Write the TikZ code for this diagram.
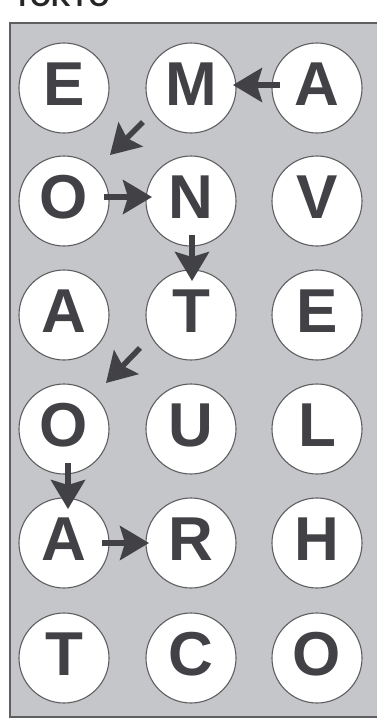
\documentclass[tikz,border=0pt]{standalone}
\usepackage{fontspec}
\setmainfont{Liberation Sans}
\usetikzlibrary{arrows.meta,calc}
\definecolor{panelgray}{RGB}{197,198,201}
\definecolor{framegray}{RGB}{95,95,97}
\definecolor{inkgray}{RGB}{66,66,70}
\tikzset{
  circ/.style={circle, draw=framegray, line width=1.1pt, fill=white, minimum size=90pt, inner sep=0pt},
  lett/.style={font=\fontsize{62}{62}\selectfont\bfseries, text=inkgray, inner sep=0pt},
  arr/.style={draw=inkgray, line width=5.5pt, -{Stealth[length=29pt, width=34pt, inset=5pt]}},
}
\begin{document}
\begin{tikzpicture}[x=1pt,y=1pt]
\useasboundingbox (0,0) rectangle (377,-724);
\node[font=\fontsize{27}{27}\selectfont\bfseries, text=black!85, anchor=base west, inner sep=0pt] (title) at (14,-6) {TOKYO};
\draw[fill=panelgray, draw=framegray, line width=1.5pt] (10,-23) rectangle (385,-717);
% grid
\foreach \r/\y/\a/\b/\c in {1/88/E/M/A, 2/201/O/N/V, 3/315/A/T/E, 4/429/O/U/L, 5/543/A/R/H, 6/658/T/C/O}{
  \node[circ] (r\r c1) at (64,-\y) {};
  \node[circ] (r\r c2) at (191,-\y) {};
  \node[circ] (r\r c3) at (317,-\y) {};
  \node[lett] (l\r c1) at ($(r\r c1)+(0,4)$) {\a};
  \node[lett] (l\r c2) at ($(r\r c2)+(0,4)$) {\b};
  \node[lett] (l\r c3) at ($(r\r c3)+(0,4)$) {\c};
}
% arrows
\draw[arr] ($(r1c3)+(-37,3)$) -- ($(r1c2)+(42,3)$);
\draw[arr] ($(r1c2)+(-48,-34)$) -- ($(r2c1)+(46,46)$);
\draw[arr] ($(r2c1)+(40,4)$) -- ($(r2c2)+(-39,4)$);
\draw[arr] ($(r2c2)+(1,-34)$) -- ($(r3c2)+(1,34)$);
\draw[arr] ($(r3c2)+(-51,-33)$) -- ($(r4c1)+(42,46)$);
\draw[arr] ($(r4c1)+(4,-34)$) -- ($(r5c1)+(4,34)$);
\draw[arr] ($(r5c1)+(38,0)$) -- ($(r5c2)+(-42,0)$);
\end{tikzpicture}
\end{document}
